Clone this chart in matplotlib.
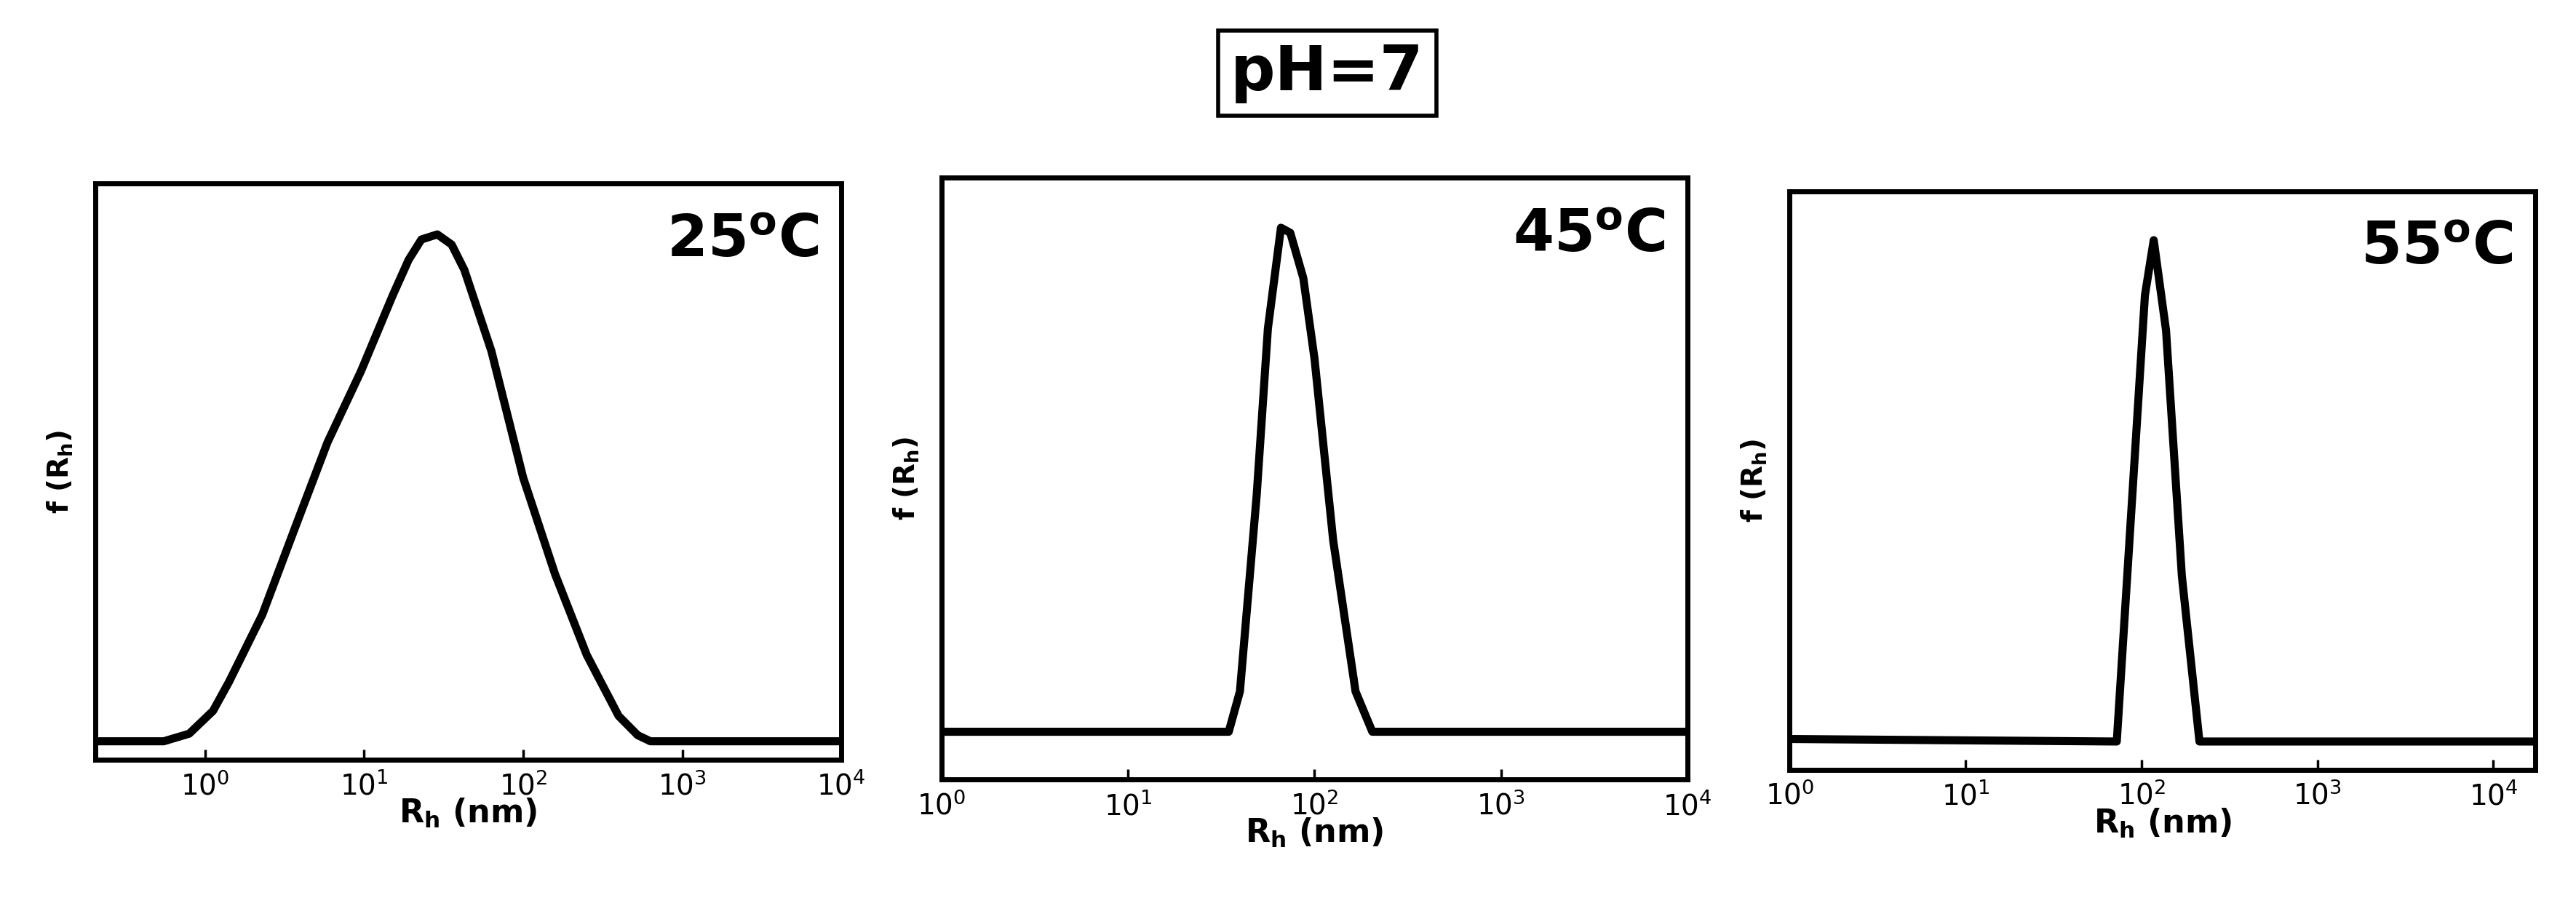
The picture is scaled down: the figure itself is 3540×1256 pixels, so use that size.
import matplotlib
matplotlib.use("Agg")
import matplotlib.pyplot as plt
import numpy as np

titles = ["25$^{\\mathregular{o}}$C", "45$^{\\mathregular{o}}$C", "55$^{\\mathregular{o}}$C"]
# log10(Rh) and normalized f(Rh)
x25 = [-0.69, -0.26, -0.1, 0.05, 0.15, 0.36, 0.57, 0.77, 0.98, 1.18, 1.28, 1.36, 1.46, 1.55, 1.63, 1.8, 2.0, 2.2, 2.4, 2.6, 2.72, 2.8, 4.0]
y25 = [0, 0, 0.015, 0.06, 0.117, 0.25, 0.425, 0.59, 0.73, 0.88, 0.95, 0.99, 1.0, 0.98, 0.93, 0.77, 0.52, 0.33, 0.17, 0.05, 0.012, 0, 0]
x45 = [0, 1.54, 1.6, 1.69, 1.75, 1.82, 1.87, 1.94, 2.0, 2.1, 2.22, 2.31, 4.0]
y45 = [0, 0, 0.08, 0.47, 0.8, 1.0, 0.99, 0.9, 0.74, 0.38, 0.08, 0, 0]
x55 = [0, 1.86, 1.95, 2.02, 2.07, 2.14, 2.23, 2.33, 4.24]
y55 = [0.005, 0, 0.5, 0.89, 1.0, 0.82, 0.33, 0, 0]

xs = [x25, x45, x55]
ys = [y25, y45, y55]
xlims = [(10**-0.69, 10**3.97), (1, 1e4), (1, 10**4.24)]
ylims = [(-0.036, 1.1), (-0.095, 1.10), (-0.056, 1.098)]
rects = [(0.037, 0.169, 0.2895, 0.630), (0.3654, 0.147, 0.2895, 0.659), (0.6945, 0.158, 0.2895, 0.633)]

fig = plt.figure(figsize=(35.41, 12.56), dpi=100)
for i in range(3):
    ax = fig.add_axes(rects[i])
    ax.plot(10 ** np.array(xs[i]), ys[i], color="black", lw=8, solid_joinstyle="round")
    ax.set_xscale("log")
    ax.set_xlim(*xlims[i])
    ax.set_ylim(*ylims[i])
    ax.set_yticks([])
    ax.xaxis.set_minor_locator(matplotlib.ticker.NullLocator())
    ax.set_xticks([1, 10, 100, 1000, 10000])
    ax.tick_params(axis="x", labelsize=28, width=2.5, length=10, direction="in", pad=12)
    for s in ax.spines.values():
        s.set_linewidth(5)
    ax.set_xlabel("R$_\\mathregular{h}$ (nm)", fontsize=32, fontweight="bold", labelpad=-4)
    ax.set_ylabel("f (R$_\\mathregular{h}$)", fontsize=28, fontweight="bold", labelpad=20)
    ax.text(0.97, 0.95, titles[i], transform=ax.transAxes, ha="right", va="top",
            fontsize=58, fontweight="bold")

fig.text(0.515, 0.92, "pH=7", ha="center", va="center", fontsize=62, fontweight="bold",
         bbox=dict(facecolor="white", edgecolor="black", linewidth=4, boxstyle="square,pad=0.2"))
fig.savefig("out.png", dpi=100)
